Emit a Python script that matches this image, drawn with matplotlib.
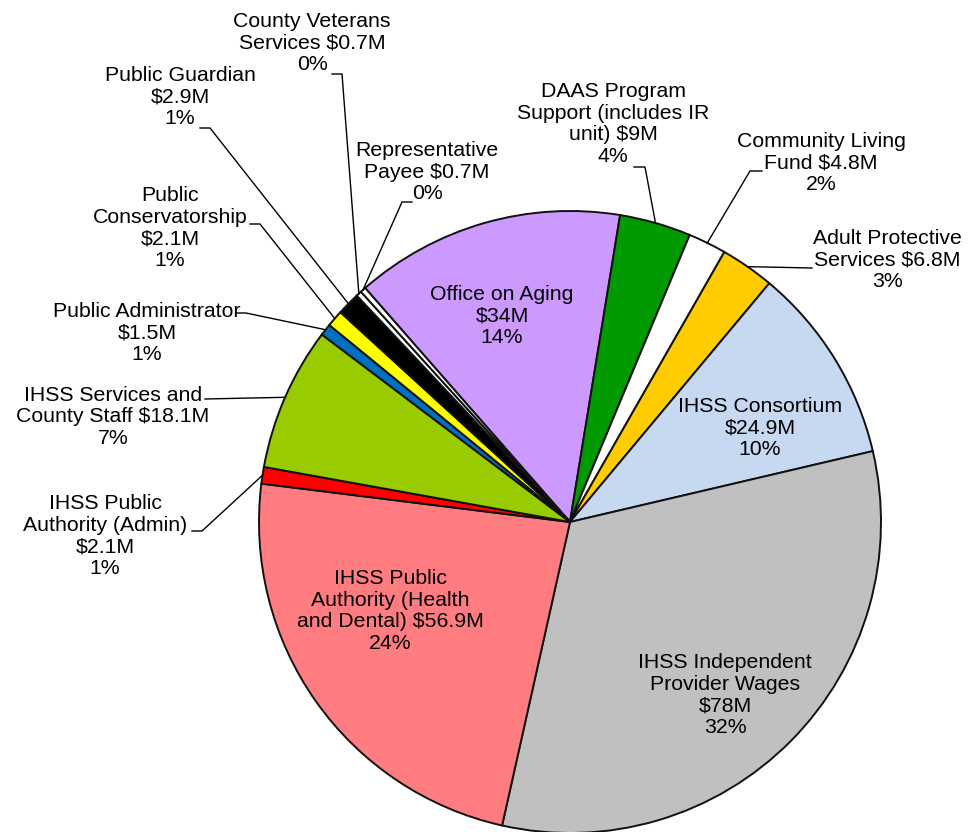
import matplotlib
matplotlib.use("Agg")
import matplotlib.pyplot as plt
import numpy as np

plt.rcParams['font.family'] = ['Liberation Sans', 'DejaVu Sans']

# budget by program, $M (clockwise from Office on Aging)
names = ['Office on Aging', 'DAAS Program Support', 'Community Living Fund',
         'Adult Protective Services', 'IHSS Consortium',
         'IHSS Independent Provider Wages', 'IHSS Public Authority (Health and Dental)',
         'IHSS Public Authority (Admin)', 'IHSS Services and County Staff',
         'Public Administrator', 'Public Conservatorship', 'Public Guardian',
         'County Veterans Services', 'Representative Payee']
values = [34, 9, 4.8, 6.8, 24.9, 78, 56.9, 2.1, 18.1, 1.5, 2.1, 2.9, 0.7, 0.7]
labels = ['Office on Aging\n$34M\n14%',
          'DAAS Program\nSupport (includes IR\nunit) $9M\n4%',
          'Community Living\nFund $4.8M\n2%',
          'Adult Protective\nServices $6.8M\n3%',
          'IHSS Consortium\n$24.9M\n10%',
          'IHSS Independent\nProvider Wages\n$78M\n32%',
          'IHSS Public\nAuthority (Health\nand Dental) $56.9M\n24%',
          'IHSS Public\nAuthority (Admin)\n$2.1M\n1%',
          'IHSS Services and\nCounty Staff $18.1M\n7%',
          'Public Administrator\n$1.5M\n1%',
          'Public\nConservatorship\n$2.1M\n1%',
          'Public Guardian\n$2.9M\n1%',
          'County Veterans\nServices $0.7M\n0%',
          'Representative\nPayee $0.7M\n0%']
colors = ['#CC99FF', '#009900', '#FFFFFF', '#FFCC00', '#C6D9F1', '#C0C0C0',
          '#FF7C80', '#FF0000', '#99CC00', '#0070C0', '#FFFF00', '#000000',
          '#FFFFFF', '#FFFFFF']

W, H = 980, 832
cx, cy, R = 570, 522, 311

# label layout in pixel coords (x, y from top); leader = elbow points before the slice
layout = {
    0: dict(pos=(502, 316)),
    1: dict(pos=(613, 124), leader=[(634, 167), (645, 167)]),
    2: dict(pos=(821, 163), leader=[(762, 171), (750, 171)]),
    3: dict(pos=(887, 260), leader=[(812, 268)]),
    4: dict(pos=(760, 428)),
    5: dict(pos=(725, 695)),
    6: dict(pos=(390, 611)),
    7: dict(pos=(105, 536), leader=[(192, 531), (202, 531)]),
    8: dict(pos=(113, 417), leader=[(205, 399)]),
    9: dict(pos=(147, 333), leader=[(237, 313), (246, 313)]),
    10: dict(pos=(170, 228), leader=[(250, 224), (260, 224)]),
    11: dict(pos=(180, 97), leader=[(200, 128), (210, 128)]),
    12: dict(pos=(312, 43), leader=[(332, 74), (342, 74)]),
    13: dict(pos=(427, 172), leader=[(412, 202), (402, 202)]),
}

fig = plt.figure(figsize=(W / 100, H / 100), dpi=100)
ax = fig.add_axes([0, 0, 1, 1])

wedges, _ = ax.pie(values, colors=colors, startangle=131.2, counterclock=False,
                   center=(cx, H - cy), radius=R,
                   wedgeprops=dict(edgecolor='#111111', linewidth=1.4))

for i, w in enumerate(wedges):
    lay = layout[i]
    x, y = lay['pos']
    ax.text(x, H - y, labels[i], ha='center', va='center', fontsize=15.3,
            linespacing=1.18, color='black')
    if 'leader' in lay:
        mid = np.deg2rad((w.theta1 + w.theta2) / 2)
        ax_, ay_ = cx + R * np.cos(mid), (H - cy) + R * np.sin(mid)
        xs = [p[0] for p in lay['leader']] + [ax_]
        ys = [H - p[1] for p in lay['leader']] + [ay_]
        ax.plot(xs, ys, color='black', linewidth=1.0)

ax.set_xlim(0, W)
ax.set_ylim(0, H)
ax.set_aspect('equal')
ax.axis('off')

fig.savefig('out.png', dpi=100, facecolor='white')
